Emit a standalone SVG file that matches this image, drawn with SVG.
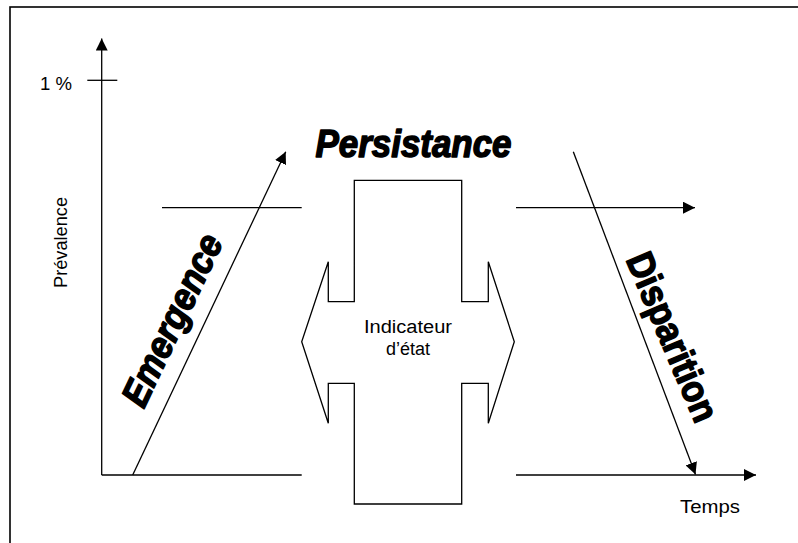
<svg xmlns="http://www.w3.org/2000/svg" width="798" height="543" viewBox="0 0 798 543">
<style>
.ln{stroke:#000;stroke-width:1.3;fill:none}
.lbl{font-family:"Liberation Sans",Arial,sans-serif;font-size:18px;fill:#000}
.big{font-family:"Liberation Sans Narrow","Liberation Sans",Arial,sans-serif;font-weight:bold;font-size:38px;fill:#000;stroke:#000;stroke-width:1.5;stroke-linejoin:round}
</style>
<defs>
<marker id="ah" markerUnits="userSpaceOnUse" markerWidth="13" markerHeight="12" refX="12" refY="6" orient="auto" viewBox="0 0 13 12">
<path d="M0,0 L12,6 L0,12 z" fill="#000"/>
</marker>
</defs>
<rect x="10" y="7" width="820" height="580" fill="#fff" stroke="#000" stroke-width="1.6"/>
<g id="connectors">
<line class="ln" x1="101.7" y1="475" x2="101.7" y2="38.5" marker-end="url(#ah)"/>
<line class="ln" x1="87.3" y1="80.3" x2="117.3" y2="80.3"/>
<line class="ln" x1="101.7" y1="475" x2="301.7" y2="475"/>
<line class="ln" x1="162" y1="207.7" x2="301.7" y2="207.7"/>
<line class="ln" x1="132.7" y1="475" x2="285.7" y2="151.7" marker-end="url(#ah)"/>
<line class="ln" x1="516" y1="207.7" x2="695" y2="207.7" marker-end="url(#ah)"/>
<line class="ln" x1="516" y1="475" x2="756" y2="475" marker-end="url(#ah)"/>
<line class="ln" x1="573.3" y1="151.7" x2="695.5" y2="474.5" marker-end="url(#ah)"/>
</g>
<g id="indicateur">
<polygon class="ln" fill="#fff" points="354.3,180.3 461.7,180.3 461.7,301.7 488.3,301.7 488.3,261.7 514.3,341.7 488.3,423.3 488.3,383.3 461.7,383.3 461.7,504 354.3,504 354.3,383.3 328.3,383.3 328.3,423.3 301.7,341.7 328.3,261.7 328.3,301.7 354.3,301.7"/>
<text class="lbl" x="408" y="333" text-anchor="middle" textLength="88" lengthAdjust="spacingAndGlyphs">Indicateur</text>
<text class="lbl" x="408" y="355" text-anchor="middle">d’état</text>
</g>
<g id="axis-labels">
<text class="lbl" x="40" y="90" textLength="32" lengthAdjust="spacingAndGlyphs">1 %</text>
<text class="lbl" x="680" y="513" textLength="60" lengthAdjust="spacingAndGlyphs">Temps</text>
<text class="lbl" transform="translate(67,242.5) rotate(-90)" x="0" y="0" text-anchor="middle" textLength="91" lengthAdjust="spacingAndGlyphs">Prévalence</text>
</g>
<g id="persistance">
<text class="big" font-style="italic" x="413.5" y="157" text-anchor="middle" textLength="196" lengthAdjust="spacingAndGlyphs">Persistance</text>
</g>
<g id="emergence">
<text class="big" font-style="italic" transform="translate(183.7,325.6) rotate(-64.5)" x="0" y="0" text-anchor="middle" textLength="186" lengthAdjust="spacingAndGlyphs">Emergence</text>
</g>
<g id="disparition">
<text class="big" transform="translate(660.6,342) rotate(67)" x="0" y="0" text-anchor="middle" textLength="180" lengthAdjust="spacingAndGlyphs">Disparition</text>
</g>
</svg>
